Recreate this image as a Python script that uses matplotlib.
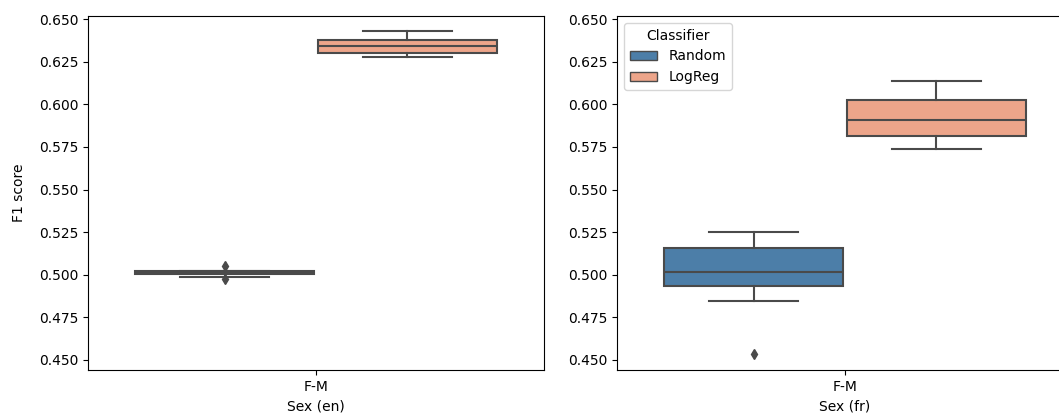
import matplotlib.pyplot as plt
from matplotlib.patches import Patch

classifiers = ['Random', 'LogReg']
colors = ['#4c7ea8', '#eda58a']
edge = '#4a4a4a'

# five-number summaries per language: [whislo, q1, med, q3, whishi]
stats_en = {
    'Random': [0.4988, 0.5005, 0.5012, 0.5020, 0.5024],
    'LogReg': [0.6280, 0.6303, 0.6342, 0.6379, 0.6428],
}
fliers_en = {'Random': [0.5049, 0.4974], 'LogReg': []}

stats_fr = {
    'Random': [0.4846, 0.4935, 0.5017, 0.5155, 0.5252],
    'LogReg': [0.5738, 0.5811, 0.5908, 0.6028, 0.6139],
}
fliers_fr = {'Random': [0.4533], 'LogReg': []}

group_label = 'F-M'
ylim = (0.4441, 0.6518)
yticks = [0.450, 0.475, 0.500, 0.525, 0.550, 0.575, 0.600, 0.625, 0.650]


def make_stats(summary, fliers):
    out = []
    for name in classifiers:
        lo, q1, med, q3, hi = summary[name]
        out.append(dict(whislo=lo, q1=q1, med=med, q3=q3, whishi=hi,
                        fliers=fliers[name], label=name))
    return out


def draw(ax, summary, fliers, xlabel):
    bp = ax.bxp(make_stats(summary, fliers), positions=[-0.2, 0.2],
                widths=0.392, patch_artist=True, manage_ticks=False,
                boxprops=dict(edgecolor=edge, linewidth=1.5),
                medianprops=dict(color=edge, linewidth=1.5),
                whiskerprops=dict(color=edge, linewidth=1.5),
                capprops=dict(color=edge, linewidth=1.5),
                flierprops=dict(marker='d', markerfacecolor=edge,
                                markeredgecolor=edge, markersize=5))
    for box, c in zip(bp['boxes'], colors):
        box.set_facecolor(c)
    ax.set_xlim(-0.5, 0.5)
    ax.set_xticks([0])
    ax.set_xticklabels([group_label])
    ax.set_ylim(*ylim)
    ax.set_yticks(yticks)
    ax.set_yticklabels([f'{t:.3f}' for t in yticks])
    ax.set_xlabel(xlabel)


fig = plt.figure(figsize=(10.59, 4.17), dpi=100)
ax1 = fig.add_axes([88 / 1059, 47 / 417, 456 / 1059, 354 / 417])
ax2 = fig.add_axes([617 / 1059, 47 / 417, 456 / 1059, 354 / 417])

draw(ax1, stats_en, fliers_en, 'Sex (en)')
ax1.set_ylabel('F1 score', labelpad=9)
draw(ax2, stats_fr, fliers_fr, 'Sex (fr)')

handles = [Patch(facecolor=c, edgecolor=edge, label=n)
           for n, c in zip(classifiers, colors)]
ax2.legend(handles=handles, title='Classifier', loc='upper left')

fig.savefig('out.png', dpi=100)
